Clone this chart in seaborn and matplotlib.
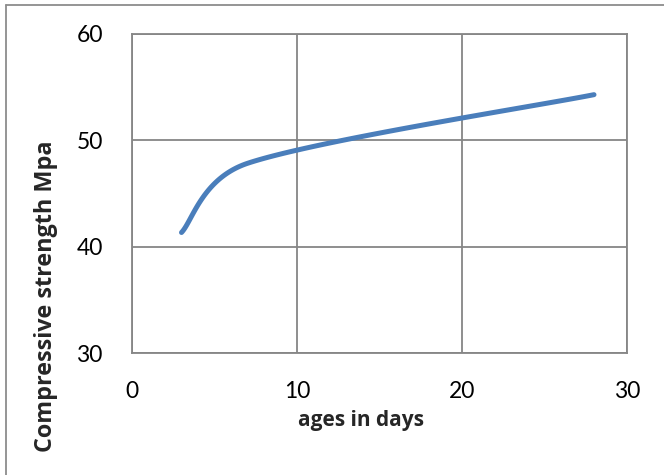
import numpy as np
import pandas as pd
import matplotlib
matplotlib.use("Agg")
import matplotlib.pyplot as plt
import seaborn as sns
from matplotlib.lines import Line2D

# values
age_days = [3, 7, 28]
strength_mpa = [41.35, 47.85, 54.3]

x_ticks = [0, 10, 20, 30]
y_ticks = [30, 40, 50, 60]

sns.set_style("white")
plt.rcParams["font.family"] = ["Lato", "DejaVu Sans"]

fig = plt.figure(figsize=(6.64, 4.75), dpi=100)
ax = fig.add_axes([132 / 664, 1 - 353.3 / 475, (627 - 132) / 664, (353.3 - 34) / 475])
ax.set_xlim(0, 30)
ax.set_ylim(30, 60)


def excel_smooth(x, y, ax, n=60):
    # smoothed line like Excel: bezier segments built in screen space,
    # arm length capped at half of the adjacent segment
    p = ax.transData.transform(np.column_stack([x, y]))
    out = []
    for i in range(len(p) - 1):
        a, b = p[i], p[i + 1]
        seg_len = np.hypot(*(b - a))
        prev = p[i - 1] if i > 0 else a
        nxt = p[i + 2] if i + 2 < len(p) else b
        t1 = (b - prev) / 6
        t2 = (nxt - a) / 6
        for tv in (t1, t2):
            L = np.hypot(*tv)
            if L > 0.5 * seg_len:
                tv *= 0.5 * seg_len / L
        c1, c2 = a + t1, b - t2
        t = np.linspace(0, 1, n)[:, None]
        seg = ((1 - t) ** 3 * a + 3 * (1 - t) ** 2 * t * c1
               + 3 * (1 - t) * t ** 2 * c2 + t ** 3 * b)
        out.append(seg if i == 0 else seg[1:])
    out = ax.transData.inverted().transform(np.vstack(out))
    return out[:, 0], out[:, 1]


sx, sy = excel_smooth(age_days, strength_mpa, ax)
curve = pd.DataFrame({"age": sx, "strength": sy})

grid_col = "#868686"
sns.lineplot(data=curve, x="age", y="strength", ax=ax, color="#4A7EBB",
             linewidth=3.6, solid_capstyle="round", sort=False)

ax.set_xlim(0, 30)
ax.set_ylim(30, 60)
ax.set_xticks(x_ticks)
ax.set_yticks(y_ticks)
ax.grid(True, color=grid_col, linewidth=1.3)
ax.tick_params(axis="both", length=0, labelsize=16.5, colors="black")
ax.tick_params(axis="x", pad=20)
ax.tick_params(axis="y", pad=21)
for s in ax.spines.values():
    s.set_visible(True)
    s.set_color(grid_col)
    s.set_linewidth(1.3)

ax.set_xlabel("ages in days", fontsize=15, fontweight="bold", family="Open Sans", va="center")
ax.set_ylabel("Compressive strength Mpa", fontsize=16.8, fontweight="bold", family="Open Sans",
              va="center")
ax.xaxis.set_label_coords(0.462, -0.209)
ax.yaxis.set_label_coords(-0.174, 0.179)

# outer chart border (only left and top visible in the crop)
fig.add_artist(Line2D([6 / 664, 6 / 664], [0, 1 - 5 / 475], transform=fig.transFigure,
                      color="#8c8c8c", linewidth=1.3))
fig.add_artist(Line2D([6 / 664, 1], [1 - 5 / 475, 1 - 5 / 475], transform=fig.transFigure,
                      color="#8c8c8c", linewidth=1.3))

fig.savefig("out.png", dpi=100)
